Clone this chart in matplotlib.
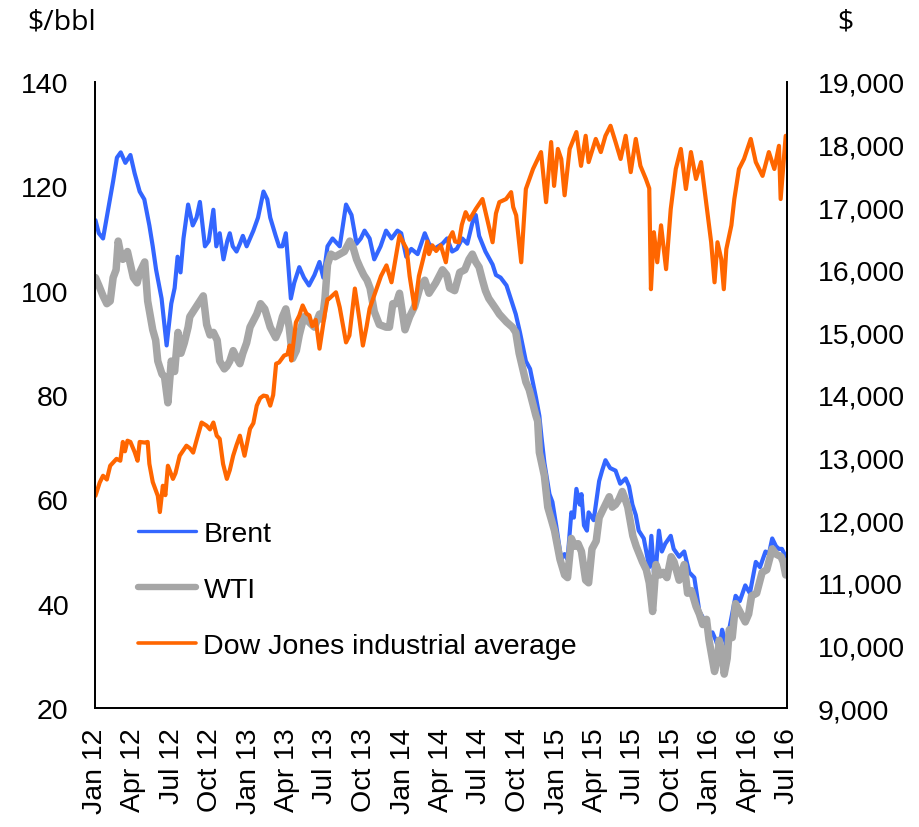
import matplotlib.pyplot as plt
import matplotlib.ticker as mticker
import pandas as pd

plt.rcParams['font.family'] = ['Liberation Sans', 'DejaVu Sans']

# Brent crude, $/bbl
brent_dates = [
    '2012-01-02', '2012-01-10', '2012-01-20', '2012-02-02', '2012-02-13', '2012-02-22',
    '2012-03-02', '2012-03-13', '2012-03-25', '2012-04-04', '2012-04-16', '2012-04-27',
    '2012-05-09', '2012-05-17', '2012-05-25', '2012-06-07', '2012-06-19', '2012-06-30',
    '2012-07-08', '2012-07-15', '2012-07-22', '2012-07-29', '2012-08-09', '2012-08-20',
    '2012-08-29', '2012-09-06', '2012-09-18', '2012-09-27', '2012-10-08', '2012-10-15',
    '2012-10-23', '2012-11-01', '2012-11-10', '2012-11-16', '2012-11-23', '2012-12-02',
    '2012-12-10', '2012-12-17', '2012-12-26', '2013-01-11', '2013-01-22', '2013-02-04',
    '2013-02-13', '2013-02-20', '2013-03-05', '2013-03-13', '2013-03-21', '2013-03-29',
    '2013-04-10', '2013-04-18', '2013-04-30', '2013-05-11', '2013-05-23', '2013-06-05',
    '2013-06-17', '2013-06-26', '2013-07-06', '2013-07-18', '2013-08-04', '2013-08-19',
    '2013-09-01', '2013-09-13', '2013-09-23', '2013-10-02', '2013-10-14', '2013-10-25',
    '2013-11-09', '2013-11-22', '2013-12-05', '2013-12-19', '2013-12-28', '2014-01-09',
    '2014-01-21', '2014-02-05', '2014-02-22', '2014-03-04', '2014-03-16', '2014-04-05',
    '2014-04-16', '2014-04-28', '2014-05-09', '2014-05-22', '2014-06-03', '2014-06-15',
    '2014-06-23', '2014-07-01', '2014-07-16', '2014-08-02', '2014-08-10', '2014-08-21',
    '2014-09-04', '2014-09-18', '2014-09-26', '2014-10-06', '2014-10-20', '2014-10-30',
    '2014-11-13', '2014-11-21', '2014-11-26', '2014-12-03', '2014-12-15', '2014-12-22',
    '2014-12-31', '2015-01-12', '2015-01-20', '2015-01-27', '2015-02-05', '2015-02-11',
    '2015-02-17', '2015-02-25', '2015-03-01', '2015-03-07', '2015-03-14', '2015-03-18',
    '2015-03-30', '2015-04-12', '2015-04-19', '2015-04-27', '2015-05-08', '2015-05-21',
    '2015-06-01', '2015-06-14', '2015-06-22', '2015-06-30', '2015-07-08', '2015-07-15',
    '2015-07-27', '2015-08-09', '2015-08-14', '2015-08-20', '2015-08-26', '2015-09-01',
    '2015-09-08', '2015-09-16', '2015-09-29', '2015-10-06', '2015-10-19', '2015-10-31',
    '2015-11-12', '2015-11-24', '2015-12-06', '2015-12-17', '2015-12-29', '2016-01-06',
    '2016-01-14', '2016-01-22', '2016-01-29', '2016-02-08', '2016-02-17', '2016-03-01',
    '2016-03-11', '2016-03-24', '2016-04-04', '2016-04-18', '2016-04-28', '2016-05-11',
    '2016-05-19', '2016-05-27', '2016-06-05', '2016-06-12', '2016-06-19', '2016-06-28',
]
brent = [
    113.5, 111, 110, 116, 121, 125.5,
    126.5, 124.5, 126, 122.5, 119, 117.5,
    112.5, 108.5, 104, 98.5, 89.5, 97.5,
    100.5, 106.5, 103.5, 110, 116.5, 112.5,
    114, 117, 108.5, 109.5, 115.5, 108.5,
    111, 106, 109.5, 111, 108.5, 107.5,
    109, 110.5, 108.5, 111.5, 114, 119,
    117.5, 114, 110.5, 108.5, 108.5, 111,
    98.5, 101.5, 104.5, 102.5, 101, 103,
    105.5, 102.5, 108.5, 110, 108.5, 116.5,
    114.5, 109, 110, 111.5, 110, 106,
    108.5, 111.5, 110, 111.5, 111, 106.5,
    108, 107, 111, 109, 108, 109,
    110, 107.5, 108, 110, 109, 113,
    114.5, 110.5, 107.5, 105, 103, 102.5,
    101, 97.5, 95.5, 92, 86.5, 85,
    79.5, 76, 72, 67, 61, 59.5,
    55, 48.5, 49.5, 48.5, 57.5, 56.5,
    62, 59, 61, 55, 54, 57.5,
    56, 63.5, 65.5, 67.5, 66, 65.5,
    63, 64, 62.5, 59, 57, 54,
    52.5, 47, 53, 46, 48, 54,
    50, 51.5, 53, 50.5, 49, 50,
    46, 45, 38.5, 37, 34, 34.5,
    33, 31, 35, 32, 36, 41.5,
    40.5, 43.5, 42, 48, 47, 50,
    49.5, 52.5, 51, 50.5, 50.5, 49,
]

# WTI crude, $/bbl
wti_dates = [
    '2012-01-02', '2012-01-10', '2012-01-20', '2012-01-29', '2012-02-06', '2012-02-13',
    '2012-02-20', '2012-02-25', '2012-03-02', '2012-03-07', '2012-03-13', '2012-03-18',
    '2012-03-25', '2012-04-01', '2012-04-10', '2012-04-16', '2012-04-28', '2012-05-05',
    '2012-05-17', '2012-05-24', '2012-05-29', '2012-06-08', '2012-06-14', '2012-06-22',
    '2012-06-30', '2012-07-08', '2012-07-16', '2012-07-23', '2012-07-31', '2012-08-09',
    '2012-08-13', '2012-08-25', '2012-09-06', '2012-09-14', '2012-09-22', '2012-09-30',
    '2012-10-08', '2012-10-17', '2012-10-23', '2012-11-03', '2012-11-09', '2012-11-16',
    '2012-11-24', '2012-12-03', '2012-12-10', '2012-12-17', '2012-12-26', '2013-01-03',
    '2013-01-19', '2013-01-28', '2013-02-07', '2013-02-20', '2013-03-05', '2013-03-13',
    '2013-03-21', '2013-03-29', '2013-04-06', '2013-04-14', '2013-04-23', '2013-04-30',
    '2013-05-11', '2013-05-23', '2013-06-05', '2013-06-17', '2013-06-24', '2013-06-30',
    '2013-07-06', '2013-07-14', '2013-07-24', '2013-08-04', '2013-08-15', '2013-08-28',
    '2013-09-04', '2013-09-13', '2013-09-21', '2013-09-30', '2013-10-08', '2013-10-15',
    '2013-10-25', '2013-11-06', '2013-11-22', '2013-11-30', '2013-12-08', '2013-12-16',
    '2013-12-24', '2014-01-06', '2014-01-17', '2014-01-29', '2014-02-10', '2014-02-22',
    '2014-03-04', '2014-03-20', '2014-04-05', '2014-04-15', '2014-04-22', '2014-05-04',
    '2014-05-16', '2014-05-28', '2014-06-07', '2014-06-15', '2014-06-23', '2014-07-01',
    '2014-07-09', '2014-07-16', '2014-07-24', '2014-08-10', '2014-08-18', '2014-09-04',
    '2014-09-18', '2014-09-26', '2014-10-04', '2014-10-20', '2014-10-28', '2014-11-05',
    '2014-11-13', '2014-11-17', '2014-11-21', '2014-12-03', '2014-12-11', '2014-12-20',
    '2014-12-27', '2015-01-09', '2015-01-20', '2015-01-27', '2015-02-05', '2015-02-13',
    '2015-02-21', '2015-03-01', '2015-03-11', '2015-03-18', '2015-03-26', '2015-04-05',
    '2015-04-12', '2015-04-24', '2015-05-06', '2015-05-13', '2015-05-21', '2015-05-29',
    '2015-06-06', '2015-06-13', '2015-06-19', '2015-07-01', '2015-07-09', '2015-07-24',
    '2015-08-02', '2015-08-09', '2015-08-17', '2015-08-25', '2015-09-03', '2015-09-11',
    '2015-09-20', '2015-09-30', '2015-10-07', '2015-10-19', '2015-10-31', '2015-11-08',
    '2015-11-17', '2015-11-28', '2015-12-06', '2015-12-14', '2015-12-23', '2015-12-29',
    '2016-01-11', '2016-01-19', '2016-01-22', '2016-01-29', '2016-02-03', '2016-02-10',
    '2016-02-15', '2016-02-22', '2016-03-01', '2016-03-11', '2016-03-24', '2016-04-01',
    '2016-04-08', '2016-04-20', '2016-05-03', '2016-05-14', '2016-05-27', '2016-06-05',
    '2016-06-17', '2016-06-22', '2016-06-28',
]
wti = [
    102.5, 101, 99, 97.5, 98, 102.5,
    104, 109.5, 107, 106, 106.5, 107.5,
    105, 102.5, 101.5, 103.5, 105.5, 98,
    92.5, 90.5, 86.5, 84, 83.5, 78.5,
    86.5, 84.5, 92, 88, 90, 93,
    95, 96.5, 98, 99, 93.5, 91.5,
    92, 90.5, 86.5, 85, 85.5, 86.5,
    88.5, 87, 86, 88, 90, 93,
    95.5, 97.5, 96.5, 93, 91, 92.5,
    95, 96.5, 93, 87, 88.5, 91.5,
    95, 94, 93, 95.5, 94.5, 98.5,
    105, 107, 106.5, 107, 107.5, 109.5,
    108.5, 106, 104.5, 103, 102, 100.5,
    96, 93.5, 93, 93, 97.5, 97.5,
    99.5, 92.5, 95, 97, 100.5, 102,
    99.5, 101.5, 104, 103, 100.5, 100,
    103.5, 104, 106, 107, 105.5, 104.5,
    102, 100, 98.5, 96.5, 95.5, 94,
    93, 92, 88, 82.5, 81, 78.5,
    76, 75, 69, 64.5, 58.5, 56,
    54, 48.5, 45.5, 45, 52.5, 51,
    51.5, 50, 44.5, 44, 50.5, 52,
    56.5, 58.5, 60.5, 58.5, 59, 60,
    61.5, 60, 58.5, 53, 51, 48,
    46.5, 44, 38.5, 47.5, 45.5, 46,
    45, 49, 48, 44.5, 47.5, 42,
    42.5, 39.5, 38, 36, 37, 33,
    27, 30, 33, 30.5, 26.5, 29.5,
    35, 33.5, 40, 38.5, 36.5, 38,
    41.5, 42, 46, 46.5, 50.5, 49.5,
    49, 48, 45.5,
]

# Dow Jones industrial average, $
dow_dates = [
    '2012-01-02', '2012-01-12', '2012-01-20', '2012-01-29', '2012-02-06', '2012-02-21',
    '2012-03-01', '2012-03-07', '2012-03-12', '2012-03-18', '2012-03-25', '2012-04-04',
    '2012-04-11', '2012-04-16', '2012-04-28', '2012-05-05', '2012-05-09', '2012-05-17',
    '2012-05-29', '2012-06-03', '2012-06-10', '2012-06-16', '2012-06-22', '2012-07-04',
    '2012-07-10', '2012-07-20', '2012-08-05', '2012-08-13', '2012-08-21', '2012-08-30',
    '2012-09-10', '2012-09-22', '2012-09-30', '2012-10-08', '2012-10-16', '2012-10-23',
    '2012-10-31', '2012-11-09', '2012-11-16', '2012-11-24', '2012-12-02', '2012-12-10',
    '2012-12-21', '2013-01-03', '2013-01-11', '2013-01-19', '2013-01-27', '2013-02-04',
    '2013-02-12', '2013-02-20', '2013-02-27', '2013-03-06', '2013-03-13', '2013-03-25',
    '2013-04-02', '2013-04-07', '2013-04-11', '2013-04-22', '2013-04-30', '2013-05-08',
    '2013-05-17', '2013-05-24', '2013-05-31', '2013-06-08', '2013-06-17', '2013-06-29',
    '2013-07-06', '2013-07-10', '2013-07-26', '2013-08-04', '2013-08-19', '2013-08-27',
    '2013-09-09', '2013-09-20', '2013-09-28', '2013-10-07', '2013-10-14', '2013-10-30',
    '2013-11-10', '2013-11-23', '2013-12-05', '2013-12-15', '2013-12-24', '2014-01-10',
    '2014-01-17', '2014-01-29', '2014-02-08', '2014-02-18', '2014-02-28', '2014-03-04',
    '2014-03-12', '2014-03-21', '2014-04-01', '2014-04-13', '2014-04-21', '2014-04-29',
    '2014-05-05', '2014-05-14', '2014-05-21', '2014-05-30', '2014-06-08', '2014-06-23',
    '2014-07-09', '2014-07-17', '2014-08-02', '2014-08-10', '2014-08-18', '2014-09-03',
    '2014-09-15', '2014-09-20', '2014-09-27', '2014-10-09', '2014-10-20', '2014-11-06',
    '2014-11-25', '2014-12-07', '2014-12-19', '2014-12-26', '2015-01-04', '2015-01-12',
    '2015-01-20', '2015-02-01', '2015-02-17', '2015-02-28', '2015-03-11', '2015-03-18',
    '2015-04-04', '2015-04-16', '2015-04-27', '2015-05-09', '2015-05-21', '2015-06-02',
    '2015-06-14', '2015-06-26', '2015-07-08', '2015-07-19', '2015-08-01', '2015-08-09',
    '2015-08-13', '2015-08-20', '2015-08-28', '2015-09-06', '2015-09-18', '2015-09-29',
    '2015-10-11', '2015-10-23', '2015-11-04', '2015-11-16', '2015-11-28', '2015-12-10',
    '2015-12-21', '2016-01-03', '2016-01-11', '2016-01-18', '2016-01-27', '2016-02-02',
    '2016-02-08', '2016-02-20', '2016-02-27', '2016-03-09', '2016-03-21', '2016-04-06',
    '2016-04-18', '2016-05-04', '2016-05-19', '2016-06-01', '2016-06-12', '2016-06-16',
    '2016-06-28',
]
dow = [
    12390, 12600, 12710, 12650, 12870, 12980,
    12950, 13250, 13100, 13270, 13250, 13090,
    12950, 13250, 13240, 13250, 12900, 12610,
    12390, 12130, 12550, 12400, 12870, 12660,
    12750, 13030, 13190, 13150, 13080, 13300,
    13560, 13510, 13450, 13560, 13350, 13300,
    12900, 12660, 12800, 13030, 13200, 13350,
    13030, 13460, 13550, 13830, 13950, 13990,
    13980, 13830, 14000, 14500, 14520, 14630,
    14650, 14790, 14550, 15160, 15270, 15430,
    15300, 15270, 15100, 15200, 14740, 15270,
    15530, 15540, 15640, 15400, 14840, 14950,
    15700, 15200, 14790, 15100, 15380, 15690,
    15900, 16070, 15800, 16200, 16550, 16330,
    15900, 15380, 15900, 16170, 16450, 16250,
    16390, 16300, 16390, 16120, 16500, 16600,
    16450, 16440, 16720, 16920, 16800, 16970,
    17130, 16900, 16440, 16900, 17080, 17130,
    17240, 17000, 16870, 16120, 17290, 17610,
    17880, 17080, 18040, 17340, 17930, 17770,
    17190, 17930, 18200, 17660, 18140, 17720,
    18090, 17880, 18140, 18300, 18040, 17770,
    18140, 17560, 18090, 17660, 17450, 17300,
    15690, 16600, 16120, 16710, 16010, 16970,
    17610, 17930, 17290, 17880, 17450, 17720,
    17130, 16440, 15800, 16440, 16170, 15690,
    16330, 16710, 17130, 17610, 17770, 18090,
    17720, 17500, 17880, 17610, 17980, 17130,
    18140,
]

quarter_starts = ['2012-01-01', '2012-04-01', '2012-07-01', '2012-10-01',
                  '2013-01-01', '2013-04-01', '2013-07-01', '2013-10-01',
                  '2014-01-01', '2014-04-01', '2014-07-01', '2014-10-01',
                  '2015-01-01', '2015-04-01', '2015-07-01', '2015-10-01',
                  '2016-01-01', '2016-04-01', '2016-07-01']
quarter_labels = ['Jan 12', 'Apr 12', 'Jul 12', 'Oct 12', 'Jan 13', 'Apr 13',
                  'Jul 13', 'Oct 13', 'Jan 14', 'Apr 14', 'Jul 14', 'Oct 14',
                  'Jan 15', 'Apr 15', 'Jul 15', 'Oct 15', 'Jan 16', 'Apr 16',
                  'Jul 16']

fig = plt.figure(figsize=(9.2, 8.28), dpi=100)
ax = fig.add_axes([0.1033, 0.1437, 0.7521, 0.7561])
ax2 = ax.twinx()

line_kw = dict(solid_joinstyle='round', solid_capstyle='round')
l1, = ax.plot(pd.to_datetime(brent_dates), brent, color='#3366FF', lw=3.0,
              label='Brent', **line_kw)
l2, = ax.plot(pd.to_datetime(wti_dates), wti, color='#A6A6A6', lw=5.4,
              label='WTI', **line_kw)
l3, = ax2.plot(pd.to_datetime(dow_dates), dow, color='#FF6600', lw=3.0,
               label='Dow Jones industrial average', **line_kw)

ax.set_xlim(pd.Timestamp('2012-01-01'), pd.Timestamp('2016-07-01'))
ax.set_xticks(pd.to_datetime(quarter_starts))
ax.set_xticklabels(quarter_labels, rotation=90)

ax.set_ylim(20, 140)
ax.set_yticks(range(20, 141, 20))
ax2.set_ylim(9000, 19000)
ax2.set_yticks(range(9000, 19001, 1000))
ax2.yaxis.set_major_formatter(mticker.StrMethodFormatter('{x:,.0f}'))

ax.tick_params(axis='y', length=0, labelsize=20.5, pad=19)
ax.tick_params(axis='x', length=0, labelsize=20.5, pad=14)
ax2.tick_params(axis='y', length=0, labelsize=20.5, pad=22)

for a in (ax, ax2):
    a.spines['top'].set_visible(False)
    for side in ('left', 'right', 'bottom'):
        a.spines[side].set_linewidth(1.3)
        a.spines[side].set_color('black')

leg = ax2.legend([l1, l2, l3], [l.get_label() for l in (l1, l2, l3)],
                 loc='upper left', bbox_to_anchor=(0.062, 0.298), frameon=False,
                 fontsize=20.5, handlelength=2.05, handletextpad=0.25,
                 labelspacing=1.05, borderpad=0, borderaxespad=0)
# legend keys a touch thinner than the plotted series
for h, w in zip(leg.get_lines(), (2.4, 4.6, 2.6)):
    h.set_linewidth(w)

fig.text(0.0674, 0.9734, '$/bbl', ha='center', va='center', fontsize=20.5,
         family='Open Sans')
fig.text(0.9185, 0.9734, '$', ha='center', va='center', fontsize=20.5,
         family='Open Sans')

fig.savefig('out.png', dpi=100)
